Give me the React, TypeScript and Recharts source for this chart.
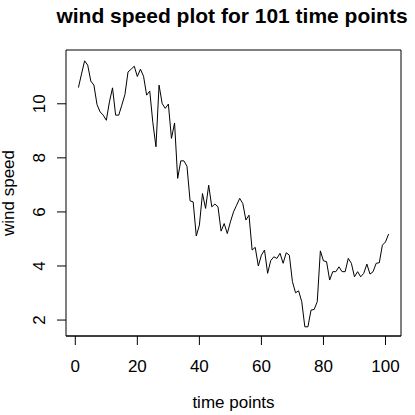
import React from 'react';
import { LineChart, Line, XAxis, YAxis, ReferenceArea } from 'recharts';

const windSpeed = [
  10.6, 11.1, 11.59, 11.43, 10.84, 10.69, 9.97, 9.7, 9.58, 9.39,
  10.07, 10.59, 9.58, 9.58, 9.95, 10.34, 11.18, 11.28, 11.39, 11.01,
  11.28, 11.02, 10.32, 10.47, 9.3, 8.41, 10.69, 10.01, 9.83, 9.99,
  8.72, 9.29, 7.24, 7.89, 7.89, 7.69, 6.41, 6.37, 5.11, 5.51,
  6.68, 6.13, 6.99, 6.19, 6.29, 6.19, 5.29, 5.57, 5.2, 5.63,
  6.0, 6.25, 6.5, 6.31, 5.7, 5.88, 4.59, 4.69, 4.0, 4.4,
  4.59, 3.73, 4.2, 4.34, 4.28, 4.47, 4.1, 4.49, 4.4, 3.42,
  3.01, 3.08, 2.68, 1.75, 1.75, 2.37, 2.39, 2.68, 4.56, 4.19,
  4.16, 3.48, 3.79, 3.79, 3.97, 3.79, 3.79, 4.28, 4.1, 3.6,
  3.79, 3.6, 3.73, 4.07, 3.7, 3.79, 4.1, 4.12, 4.77, 4.89,
  5.18,
];
const xTicks = [0, 20, 40, 60, 80, 100];
const yTicks = [2, 4, 6, 8, 10];
const xDomain = [-3, 105];
const yDomain = [1.41, 11.99];
const title = 'wind speed plot for 101 time points';
const xLabel = 'time points';
const yLabel = 'wind speed';

const data = windSpeed.map((v, i) => ({ t: i + 1, v }));
const FONT = '"Liberation Sans", Arial, Helvetica, sans-serif';
const FS = 17;

const XTick = (props: any) => {
  const { x, y, payload } = props;
  return (
    <text x={x} y={y + 24.5} textAnchor="middle" fontSize={FS} fontFamily={FONT} fill="#000">
      {payload.value}
    </text>
  );
};

const YTick = (props: any) => {
  const { x, y, payload } = props;
  const lx = x - 10;
  return (
    <text
      x={lx}
      y={y}
      transform={`rotate(-90, ${lx}, ${y})`}
      textAnchor="middle"
      fontSize={FS}
      fontFamily={FONT}
      fill="#000"
    >
      {payload.value}
    </text>
  );
};

export default function App() {
  return (
    <div style={{ position: 'absolute', left: 0, top: 0, width: 415, height: 415, background: '#fff' }}>
      <LineChart
        width={415}
        height={415}
        data={data}
        margin={{ top: 50, right: 14, bottom: 0, left: 0 }}
      >
        <XAxis
          dataKey="t"
          type="number"
          domain={xDomain}
          ticks={xTicks}
          allowDataOverflow
          height={79}
          tickSize={9}
          tick={<XTick />}
          stroke="#000"
          tickLine={{ stroke: '#000' }}
          interval={0}
        />
        <YAxis
          dataKey="v"
          type="number"
          domain={yDomain}
          ticks={yTicks}
          allowDataOverflow
          width={66}
          tickSize={9}
          tick={<YTick />}
          axisLine={false}
          tickLine={{ stroke: '#000' }}
          interval={0}
        />
        <ReferenceArea
          x1={xDomain[0]}
          x2={xDomain[1]}
          y1={yDomain[0]}
          y2={yDomain[1]}
          fill="none"
          stroke="#000"
          strokeWidth={1}
          ifOverflow="visible"
        />
        <Line
          type="linear"
          dataKey="v"
          stroke="#000"
          strokeWidth={1}
          dot={false}
          isAnimationActive={false}
        />
      </LineChart>
      <svg width={415} height={415} style={{ position: 'absolute', left: 0, top: 0, pointerEvents: 'none' }}>
        <text x={232} y={23} textAnchor="middle" fontSize={21} fontWeight="bold" fontFamily={FONT} fill="#000">
          {title}
        </text>
        <text x={233.5} y={408} textAnchor="middle" fontSize={FS} fontFamily={FONT} fill="#000">
          {xLabel}
        </text>
        <text
          x={14}
          y={193}
          transform="rotate(-90, 14, 193)"
          textAnchor="middle"
          fontSize={FS}
          fontFamily={FONT}
          fill="#000"
        >
          {yLabel}
        </text>
      </svg>
    </div>
  );
}
